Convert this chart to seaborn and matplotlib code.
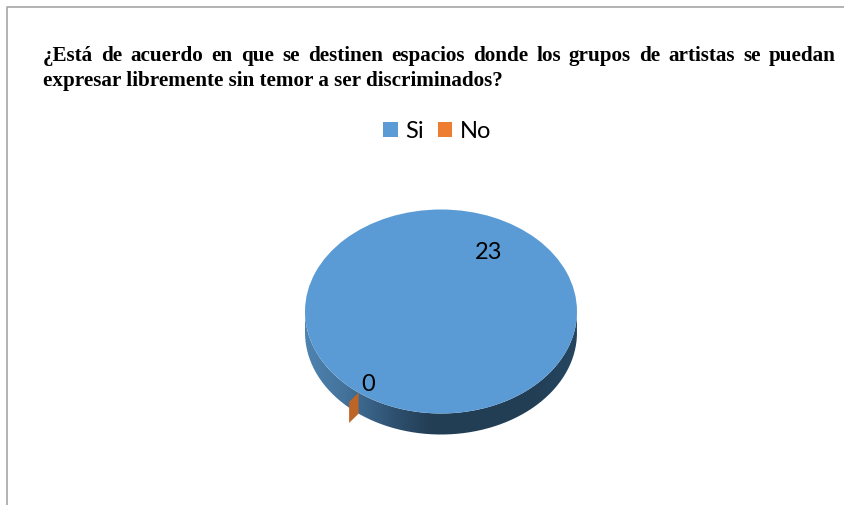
"""Pie chart of the survey answer, drawn as a flat 3D disc."""

import numpy as np
import matplotlib
matplotlib.use('Agg')
import matplotlib.pyplot as plt
import seaborn as sns
from matplotlib.colors import LinearSegmentedColormap
from matplotlib.lines import Line2D
from matplotlib.patches import PathPatch, Polygon
from matplotlib.path import Path

categories = ['Si', 'No']
values = [23, 0]
title_lines = [
    '¿Está de acuerdo en que se destinen espacios donde los grupos de artistas se puedan',
    'expresar libremente sin temor a ser discriminados?',
]

W, H = 844, 506
DEPTH = 0.206  # wall height, in units of the vertical radius

sns.set_theme(style='white')
plt.rcParams['font.family'] = ['Lato', 'DejaVu Sans']
colors = sns.color_palette(['#5b9bd5', '#ed7d31'])

fig = plt.figure(figsize=(W / 100, H / 100), dpi=100)

# Page border, only top and left are visible
fig.add_artist(Line2D([7 / W, 7 / W, 1], [0, 1 - 7.5 / H, 1 - 7.5 / H],
                      color='#a6a6a6', lw=1.2, transform=fig.transFigure))

# Title, first line is justified word by word
renderer = fig.canvas.get_renderer()
serif = dict(family='Liberation Serif', fontweight='bold', fontsize=15.25, va='baseline', color='black')
words = title_lines[0].split()
pieces = [fig.text(0, 0, w, **serif) for w in words]
widths = [p.get_window_extent(renderer).width for p in pieces]
gap = (836 - 43 - sum(widths)) / (len(words) - 1)
x = 43
for p, w in zip(pieces, widths):
    p.set_position((x / W, 1 - 61 / H))
    x += w + gap
fig.text(43 / W, 1 - 86 / H, title_lines[1], **serif)

# Pie axes sit exactly on the bounding box of the top ellipse
ax = fig.add_axes([305 / W, 1 - 414.5 / H, 272 / W, 204 / H])
wedges, _ = ax.pie(values, colors=colors, startangle=232.7, counterclock=True,
                   radius=1, wedgeprops=dict(linewidth=0, zorder=3))

# Side wall with a horizontal gradient
t = np.linspace(np.pi, 2 * np.pi, 200)
rim = np.column_stack([np.cos(t), np.sin(t)])
wall = np.vstack([rim, (rim - [0, DEPTH])[::-1]])
wall_patch = PathPatch(Path(wall), facecolor='none', edgecolor='none', transform=ax.transData)
ax.add_patch(wall_patch)
wall_patch.set_clip_on(False)
cmap = LinearSegmentedColormap.from_list(
    'wall', [(0, '#4f83b0'), (0.14, '#44739c'), (0.32, '#2f5272'), (0.46, '#233e55'),
             (0.85, '#223f56'), (1, '#264660')])
im = ax.imshow(np.linspace(0, 1, 256)[None, :], cmap=cmap, aspect='auto',
               extent=(-1, 1, -1 - DEPTH, 0), zorder=1)
im.set_clip_box(fig.bbox)
im.set_clip_path(wall_patch)

# Empty "No" slice shows only as its cut face, at the edge left by the pie
a = np.deg2rad(wedges[1].theta1)
edge = np.array([np.cos(a), np.sin(a)])
ax.add_patch(Polygon([edge, edge * 1.115, edge * 1.115 - [0, DEPTH], edge - [0, DEPTH]],
                     closed=True, facecolor='#bd6527', edgecolor='none', zorder=2, clip_on=False))

ax.set_aspect('auto')
ax.set_xlim(-1, 1)
ax.set_ylim(-1, 1)
ax.axis('off')
for w in wedges:
    w.set_clip_on(False)

# Value labels
ax.text(0.353, 0.59, str(values[0]), ha='center', va='center', fontsize=17, color='black', zorder=5)
ax.text(-0.537, -0.71, str(values[1]), ha='center', va='center', fontsize=17, color='black', zorder=5)

# Legend
fig.legend(wedges, categories, loc='center', bbox_to_anchor=(437.5 / W, 1 - 132 / H), ncol=2,
           frameon=False, fontsize=17, handlelength=0.6, handleheight=0.6,
           handletextpad=0.33, columnspacing=0.6, labelcolor='black')

fig.savefig('out.png', dpi=100, facecolor='white')
